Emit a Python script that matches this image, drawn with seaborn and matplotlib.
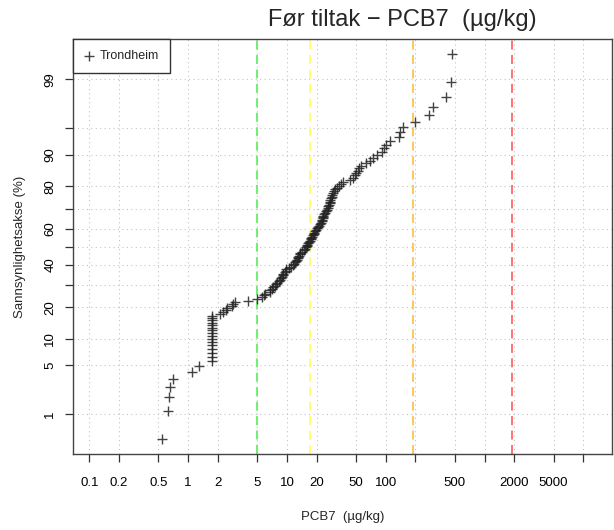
import numpy as np
import pandas as pd
import matplotlib
matplotlib.use("Agg")
import matplotlib.pyplot as plt
import seaborn as sns
from statistics import NormalDist

# PCB7 concentrations (ug/kg), sorted
conc = [0.54, 0.63, 0.64, 0.65, 0.70, 1.09, 1.30,
        1.73, 1.73, 1.73, 1.73, 1.73, 1.73, 1.73, 1.73,
        1.73, 1.73, 1.73, 1.73, 1.73, 1.73, 1.73, 1.73,
        2.10, 2.24, 2.40, 2.50, 2.75, 2.87, 2.95, 4.0, 5.0,
        5.6, 5.85, 6.0, 6.7, 6.8, 7.0, 7.3, 7.6, 7.8, 7.95,
        8.3, 8.5, 8.7, 8.9, 9.1, 9.2, 9.5, 9.7, 9.9, 10.5,
        11.0, 11.6, 11.9, 12.2, 12.4, 12.6, 12.9, 13.1, 13.3, 13.5,
        13.7, 14.2, 14.8, 15.2, 15.5, 15.8, 16.1, 16.4, 16.9, 17.1,
        17.4, 17.6, 17.8, 18.3, 18.7, 19.0, 19.4, 19.8, 20.2, 20.6,
        21.0, 21.5, 22.0, 22.4, 22.7, 23.0, 23.2, 23.4, 23.7, 24.2,
        24.8, 25.3, 25.8, 26.2, 26.6, 27.0, 27.3, 27.6, 28.0, 28.4,
        28.8, 29.2, 29.8, 31.0, 32.5, 34.0, 35.5, 37.3, 44.0, 46.5,
        49.0, 50.5, 52.0, 54.0, 56.0, 63.0, 70.0, 75.0, 82.0, 91.0,
        96.0, 100.0, 110.0, 137.0, 140.0, 149.0, 197.0, 276.0, 303.0, 405.0,
        462.0, 466.0]

# class limits (dashed vertical lines)
limits = [5, 17, 190, 1900]
limit_colors = ["#66ee66", "#ffff66", "#ffc34d", "#ff6666"]

x_ticks = [0.1, 0.2, 0.5, 1, 2, 5, 10, 20, 50, 100, 200, 500, 1000, 2000, 5000, 10000]
x_labels = ["0.1", "0.2", "0.5", "1", "2", "5", "10", "20", "50", "100", "",
            "500", "", "2000", "5000", ""]
y_ticks = [1, 5, 10, 20, 30, 40, 50, 60, 70, 80, 90, 95, 99]
y_labels = ["1", "5", "10", "20", "", "40", "", "60", "", "80", "90", "", "99"]

n = len(conc)
df = pd.DataFrame({"conc": np.sort(conc)})
df["pct"] = (np.arange(1, n + 1) - 0.5) / n * 100  # plotting positions

nd = NormalDist()


def to_z(p):
    p = np.clip(np.asarray(p, dtype=float), 1e-6, 100 - 1e-6)
    return np.vectorize(lambda v: nd.inv_cdf(v / 100), otypes=[float])(p)


def from_z(z):
    return np.vectorize(lambda v: nd.cdf(v) * 100, otypes=[float])(np.asarray(z, dtype=float))


sns.set_style("white")
plt.rcParams["font.family"] = ["Liberation Sans", "DejaVu Sans"]

fig = plt.figure(figsize=(6.14, 5.30), dpi=100)
ax = fig.add_axes([73 / 614, 1 - 454.3 / 530, (612.3 - 73) / 614, (454.3 - 39.3) / 530])

ax.set_xscale("log")
ax.set_yscale("function", functions=(to_z, from_z))

for v, c in zip(limits, limit_colors):
    ax.axvline(v, color=c, ls=(0, (5, 3)), lw=1.3, zorder=1)

sns.scatterplot(data=df, x="conc", y="pct", marker="+", s=42, color="#222222",
                linewidth=1.0, alpha=0.85, label="Trondheim", ax=ax, zorder=3)

ax.set_xlim(0.0684, 19650)
ax.set_ylim(from_z(-2.883), from_z(2.883))

ax.set_xticks(x_ticks)
ax.set_xticklabels(x_labels)
ax.set_yticks(y_ticks)
ax.set_yticklabels(y_labels)
ax.xaxis.set_minor_locator(matplotlib.ticker.NullLocator())
ax.yaxis.set_minor_locator(matplotlib.ticker.NullLocator())

ax.tick_params(axis="both", which="major", direction="out", length=6, width=0.9,
               color="#333333", labelsize=9.5, labelcolor="black",
               bottom=True, left=True)
ax.tick_params(axis="x", pad=10)
ax.tick_params(axis="y", pad=6, labelrotation=90)
for lab in ax.get_yticklabels():
    lab.set_va("center")

ax.grid(True, linestyle=(0, (1, 3)), color="#c4c4c4", linewidth=0.8, zorder=0)
for sp in ax.spines.values():
    sp.set_color("#444444")
    sp.set_linewidth(1.0)

ax.set_xlabel("PCB7  (µg/kg)", fontsize=9.5, labelpad=16)
ax.set_ylabel("Sannsynlighetsakse (%)", fontsize=9.5, labelpad=13)

leg = ax.legend(loc="upper left", borderaxespad=0, fancybox=False, framealpha=1,
                edgecolor="#333333", fontsize=9, handletextpad=0.4,
                borderpad=0.85, handlelength=0.9)
leg.get_frame().set_linewidth(1.0)

fig.text(402 / 614, 1 - 20 / 530, "Før tiltak − PCB7  (µg/kg)", ha="center",
         va="center", fontsize=17)

fig.savefig("out.png", dpi=100)
